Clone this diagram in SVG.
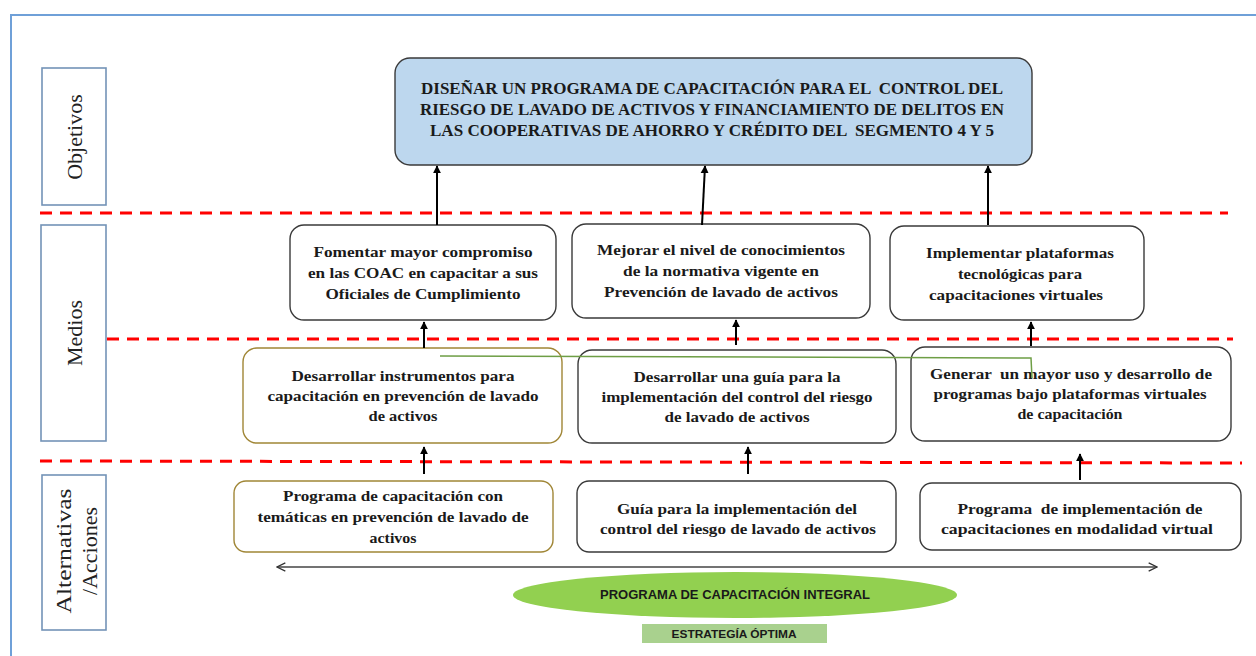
<svg xmlns="http://www.w3.org/2000/svg" width="1256" height="656" viewBox="0 0 1256 656">
<defs>
<style>
.frame{fill:none;stroke:#6FA0D8;stroke-width:2}
.side{fill:#fff;stroke:#7393B7;stroke-width:1.6}
.sidet{font-family:"Liberation Serif","Times New Roman",serif;font-size:22px;fill:#222;text-anchor:middle}
.dash{stroke:#FF0000;stroke-width:3;stroke-dasharray:12 8;fill:none}
.box{fill:#fff;stroke:#3a3a3a;stroke-width:1.4}
.gold{fill:#fff;stroke:#A08636;stroke-width:1.4}
.obj{fill:#BDD7EE;stroke:#3a3a3a;stroke-width:1.4}
.t{font-family:"Liberation Serif","Times New Roman",serif;font-weight:bold;font-size:14.5px;fill:#1a1a1a;text-anchor:middle;white-space:pre}
.tobj{font-family:"Liberation Serif","Times New Roman",serif;font-weight:bold;font-size:16px;fill:#1a1a1a;text-anchor:middle;white-space:pre}
.arr{stroke:#000;stroke-width:2;fill:none;marker-end:url(#ah)}
.sans{font-family:"Liberation Sans",Arial,sans-serif;font-weight:bold;fill:#1a1a1a;text-anchor:middle}
</style>
<marker id="ah" viewBox="0 0 10 10" refX="9" refY="5" markerWidth="4" markerHeight="4.5" orient="auto" markerUnits="strokeWidth">
<path d="M0,0 L10,5 L0,10 z" fill="#000"/>
</marker>
<marker id="chev" viewBox="0 0 12 12" refX="11" refY="6" markerWidth="10" markerHeight="10" orient="auto-start-reverse" markerUnits="userSpaceOnUse">
<path d="M1,1 L11,6 L1,11" fill="none" stroke="#333" stroke-width="1.5"/>
</marker>
</defs>
<rect width="1256" height="656" fill="#fff"/>
<path class="frame" d="M11,656 L11,15 L1256,15"/>

<g id="lbl-objetivos">
<rect class="side" x="42" y="68" width="64" height="137"/>
<text class="sidet" transform="translate(82,137) rotate(-90)">Objetivos</text>
</g>
<g id="lbl-medios">
<rect class="side" x="41" y="225" width="65" height="216"/>
<text class="sidet" transform="translate(82,333) rotate(-90)">Medios</text>
</g>
<g id="lbl-alternativas">
<rect class="side" x="42" y="475" width="64" height="155"/>
<text class="sidet" transform="translate(71,551) rotate(-90)" textLength="125" lengthAdjust="spacingAndGlyphs">Alternativas</text>
<text class="sidet" transform="translate(97,551) rotate(-90)">/Acciones</text>
</g>

<g id="separators">
<line class="dash" x1="40" y1="213" x2="1228" y2="213"/>
<line class="dash" x1="107" y1="339" x2="1233" y2="339"/>
<line class="dash" x1="40" y1="461" x2="1242" y2="463"/>
</g>

<g id="objetivo">
<rect class="obj" x="395" y="58" width="637" height="107" rx="15"/>
<text class="tobj" xml:space="preserve" x="712" y="94" textLength="582" lengthAdjust="spacingAndGlyphs">DISEÑAR UN PROGRAMA DE CAPACITACIÓN PARA EL  CONTROL DEL</text>
<text class="tobj" x="712" y="115" textLength="584" lengthAdjust="spacingAndGlyphs">RIESGO DE LAVADO DE ACTIVOS Y FINANCIAMIENTO DE DELITOS EN</text>
<text class="tobj" xml:space="preserve" x="712" y="136" textLength="564" lengthAdjust="spacingAndGlyphs">LAS COOPERATIVAS DE AHORRO Y CRÉDITO DEL  SEGMENTO 4 Y 5</text>
</g>

<g id="medio-1a">
<rect class="box" x="290" y="225" width="266" height="95" rx="14"/>
<text class="t" x="423" y="257" textLength="219" lengthAdjust="spacingAndGlyphs">Fomentar mayor compromiso</text>
<text class="t" x="423" y="278" textLength="230" lengthAdjust="spacingAndGlyphs">en las COAC en capacitar a sus</text>
<text class="t" x="423" y="299" textLength="195" lengthAdjust="spacingAndGlyphs">Oficiales de Cumplimiento</text>
</g>
<g id="medio-1b">
<rect class="box" x="572" y="224" width="298" height="94" rx="14"/>
<text class="t" x="721" y="255" textLength="248" lengthAdjust="spacingAndGlyphs">Mejorar el nivel de conocimientos</text>
<text class="t" x="721" y="276" textLength="196" lengthAdjust="spacingAndGlyphs">de la normativa vigente en</text>
<text class="t" x="721" y="297" textLength="234" lengthAdjust="spacingAndGlyphs">Prevención de lavado de activos</text>
</g>
<g id="medio-1c">
<rect class="box" x="890" y="226" width="254" height="94" rx="14"/>
<text class="t" x="1020" y="258" textLength="188" lengthAdjust="spacingAndGlyphs">Implementar plataformas</text>
<text class="t" x="1020" y="279" textLength="124" lengthAdjust="spacingAndGlyphs">tecnológicas para</text>
<text class="t" x="1016" y="300" textLength="174" lengthAdjust="spacingAndGlyphs">capacitaciones virtuales</text>
</g>

<g id="medio-2a">
<rect class="gold" x="243" y="348" width="319" height="95" rx="14"/>
<text class="t" x="403" y="381" textLength="223" lengthAdjust="spacingAndGlyphs">Desarrollar instrumentos para</text>
<text class="t" x="403" y="401" textLength="271" lengthAdjust="spacingAndGlyphs">capacitación en prevención de lavado</text>
<text class="t" x="403" y="421" textLength="69" lengthAdjust="spacingAndGlyphs">de activos</text>
</g>
<g id="medio-2b">
<rect class="box" x="578" y="350" width="318" height="93" rx="14"/>
<text class="t" x="737" y="382" textLength="207" lengthAdjust="spacingAndGlyphs">Desarrollar una guía para la</text>
<text class="t" x="737" y="402" textLength="271" lengthAdjust="spacingAndGlyphs">implementación del control del riesgo</text>
<text class="t" x="737" y="422" textLength="145" lengthAdjust="spacingAndGlyphs">de lavado de activos</text>
</g>
<g id="medio-2c">
<rect class="box" x="911" y="347" width="320" height="94" rx="14"/>
<text class="t" xml:space="preserve" x="1071" y="379" textLength="282" lengthAdjust="spacingAndGlyphs">Generar  un mayor uso y desarrollo de</text>
<text class="t" x="1070" y="399" textLength="273" lengthAdjust="spacingAndGlyphs">programas bajo plataformas virtuales</text>
<text class="t" x="1070" y="419" textLength="105" lengthAdjust="spacingAndGlyphs">de capacitación</text>
</g>

<g id="alt-1">
<rect class="gold" x="234" y="481" width="319" height="71" rx="12"/>
<text class="t" x="393" y="501" textLength="220" lengthAdjust="spacingAndGlyphs">Programa de capacitación con</text>
<text class="t" x="393" y="522" textLength="271" lengthAdjust="spacingAndGlyphs">temáticas en prevención de lavado de</text>
<text class="t" x="393" y="543" textLength="47" lengthAdjust="spacingAndGlyphs">activos</text>
</g>
<g id="alt-2">
<rect class="box" x="577" y="481" width="319" height="71" rx="12"/>
<text class="t" x="737" y="514" textLength="240" lengthAdjust="spacingAndGlyphs">Guía para la implementación del</text>
<text class="t" x="738" y="534" textLength="276" lengthAdjust="spacingAndGlyphs">control del riesgo de lavado de activos</text>
</g>
<g id="alt-3">
<rect class="box" x="920" y="483" width="321" height="67" rx="12"/>
<text class="t" xml:space="preserve" x="1080" y="514" textLength="245" lengthAdjust="spacingAndGlyphs">Programa  de implementación de</text>
<text class="t" x="1077" y="534" textLength="272" lengthAdjust="spacingAndGlyphs">capacitaciones en modalidad virtual</text>
</g>

<g id="connectors">
<line class="arr" x1="437" y1="225" x2="437" y2="166"/>
<line class="arr" x1="702" y1="225" x2="705" y2="166"/>
<line class="arr" x1="988" y1="225" x2="988" y2="166"/>
<line class="arr" x1="424" y1="348" x2="424" y2="322"/>
<line class="arr" x1="736" y1="345" x2="736" y2="320"/>
<line class="arr" x1="1031" y1="346" x2="1031" y2="322"/>
<line class="arr" x1="424" y1="474" x2="424" y2="447"/>
<line class="arr" x1="748" y1="474" x2="748" y2="447"/>
<line class="arr" x1="1080" y1="480" x2="1080" y2="454"/>
<path d="M440,356 L1031,358 L1032,378" fill="none" stroke="#6E9E45" stroke-width="1.5"/>
<line x1="277" y1="567" x2="1157" y2="567" stroke="#444" stroke-width="1.5" marker-start="url(#chev)" marker-end="url(#chev)"/>
</g>

<g id="integral">
<ellipse cx="735" cy="595" rx="222" ry="23" fill="#92D050"/>
<text class="sans" x="735" y="599" font-size="12" textLength="270" lengthAdjust="spacingAndGlyphs">PROGRAMA DE CAPACITACIÓN INTEGRAL</text>
</g>
<g id="estrategia">
<rect x="642" y="624" width="185" height="19" fill="#A9D18E"/>
<text class="sans" x="734" y="638" font-size="10" textLength="125" lengthAdjust="spacingAndGlyphs">ESTRATEGÍA ÓPTIMA</text>
</g>
</svg>
